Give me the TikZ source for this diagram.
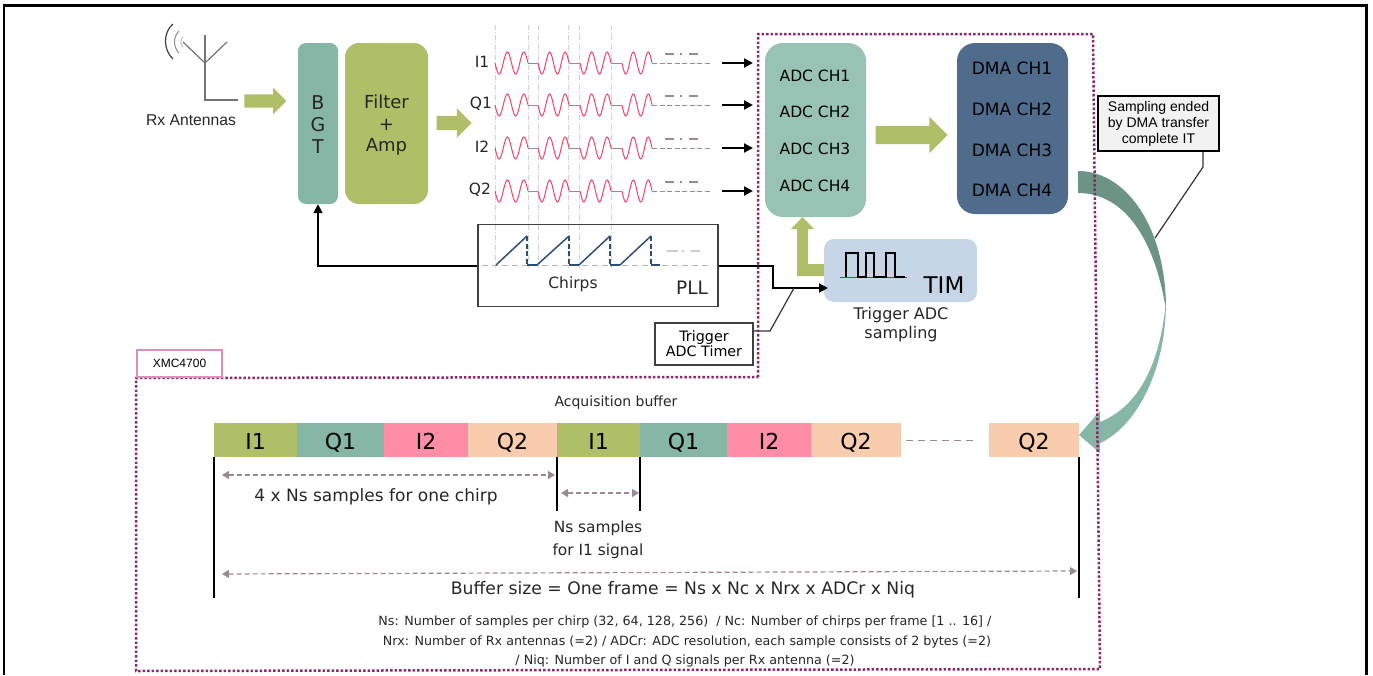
\documentclass[tikz,border=0pt]{standalone}
\usepackage{fontspec}
\setmainfont{DejaVu Sans}
\newfontfamily\arialfont{Liberation Sans}
\usetikzlibrary{positioning,shapes.arrows,arrows.meta}
\definecolor{cgreen}{HTML}{AEBF67}
\definecolor{cteal}{HTML}{86B6A6}
\definecolor{cadc}{HTML}{98C2B4}
\definecolor{cdma}{HTML}{506C8C}
\definecolor{ctim}{HTML}{C6D6E6}
\definecolor{cpink}{HTML}{FF8DA6}
\definecolor{cpeach}{HTML}{F9CCAE}
\definecolor{cdark}{HTML}{6B9484}
\definecolor{cdot}{HTML}{8B2A6B}
\definecolor{cwave}{HTML}{E8466A}
\definecolor{cdash}{HTML}{9A8A8F}
\definecolor{cchirp}{HTML}{2A5078}
\newcommand{\fs}[1]{\fontsize{#1}{#1}\selectfont}
\begin{document}
\begin{tikzpicture}[x=1pt,y=-1pt,>={Triangle[length=9pt,width=9pt]},node distance=0pt]
    \tikzset{
      block/.style={rectangle,rounded corners=#1,inner sep=0pt,align=center},
      fatarrow/.style={single arrow,fill=cgreen,inner xsep=0pt,inner ysep=6.5pt,single arrow head extend=6.5pt,
        minimum width=26pt,shape border rotate=0},
      txt/.style={inner sep=0pt,align=center,font=\fs{#1},text=black!85},
      cell/.style={inner sep=0pt,outer sep=0pt,minimum height=34pt,text height=19pt,text depth=0pt,font=\fs{22}},
      signal/.style={line width=2pt,->},
      wave/.style={cwave,line width=1pt},
      level/.style={cdash,line width=1pt,dash pattern=on 5pt off 2.5pt},
      guide/.style={black!18,line width=.6pt,dash pattern=on 5pt off 2pt on 1pt off 2pt},
      span/.style={cdash,line width=1.2pt,dash pattern=on 5pt off 3pt,{Triangle[length=7pt,width=8pt]}-{Triangle[length=7pt,width=8pt]}},
      tick/.style={black,line width=2pt},
      thinline/.style={black!80,line width=1.2pt},
      border/.style={cdot,line width=2.5pt,dash pattern=on 2.5pt off 2pt}
    }
    \useasboundingbox (0,0) rectangle (1373,675);
    \draw[black,line width=2.2pt] (4,675) -- (4,5.5) -- (1366.5,5.5) -- (1366.5,675);

    % antenna
    \coordinate (ant0) at (205,35);
    \coordinate (antb) at (205,100);
    \coordinate (antc) at (205,63);
    \draw[black!55,line width=1.2pt] (ant0) -- (antb) -- (238,100);
    \draw[black!55,line width=1.2pt] (183,42) -- (antc) -- (227,42);
    \draw[black!75,line width=1.2pt] (173,24) .. controls (163,32) and (163,50) .. (173,59);
    \draw[black!45,line width=1pt] (179,31) .. controls (173,37) and (173,47) .. (179,53);
    \draw[black!25,line width=1pt] (183,37) .. controls (180,40) and (180,44) .. (183,47);
    \node[txt=14,font=\arialfont\fs{15.7}] (rx) at (191,120) {Rx Antennas};

    % front end
    \node[fatarrow,minimum height=42pt] (arrowrx) at (262,101) {};
    \node[block=8pt,fill=cteal,minimum width=40pt,minimum height=161pt,font=\fs{18}] (bgt) at (318,123.5) {};
    \node[txt=19] (bgtb) at (318,103) {B};
    \node[txt=19] (bgtg) at (318,125) {G};
    \node[txt=19] (bgtt) at (318,147) {T};
    \node[block=14pt,fill=cgreen,minimum width=83pt,minimum height=161pt] (filter) at (386.5,123.5) {};
    \node[txt=18] (filtera) at (386.5,102) {Filter};
    \node[txt=18] (filterb) at (386.5,125) {+};
    \node[txt=18] (filterc) at (386.5,147) {Amp};
    \node[fatarrow,inner ysep=7pt,minimum width=29pt,single arrow head extend=7.5pt,minimum height=35pt] (arrowif) at (450.5,123) {};

    % PLL
    \node[draw=black!75,fill=white,line width=1.5pt,minimum width=240pt,minimum height=82pt,inner sep=0pt] (pll) at (598,265.5) {};
    \node[txt=15.5] (chirps) at (573,284) {Chirps};
    \node[txt=18.5] (plltxt) at (692,288) {PLL};
    \coordinate (pllin) at (pll.west |- 0,266);
    \coordinate (pllout) at (pll.east |- 0,266);

    % guide lines over the signals
    \foreach \xpos in {495.5,528,538,568,579,611}
      \draw[guide] (\xpos,25) -- (\xpos,268);

    % signals
    \foreach \name/\label/\ypos/\xlab in {i1/I1/63/482,q1/Q1/105/481,i2/I2/148/482,q2/Q2/191/480}{
      \node[txt=15.5] (lab\name) at (\xlab,\ypos-1.5) {\label};
      \foreach \xa/\xb in {495/528,538/569,580/611,622/652}
        \draw[wave] plot[smooth,domain=\xa:\xb,samples=33] (\x,{\ypos+11*sin(720/(\xb-\xa)*(\x-\xa))});
      \foreach \xa/\xb in {528/538,569/580,611/622}
        \draw[cdash,line width=1pt] (\xa,\ypos) -- (\xb,\ypos);
      \draw[level] (652,\ypos) -- (712,\ypos);
      \draw[cdash,line width=2pt] (665,\ypos-9) -- (674,\ypos-9);
      \draw[cdash,line width=2pt] (680,\ypos-9) -- (681.5,\ypos-9);
      \draw[cdash,line width=2pt] (689,\ypos-9) -- (698,\ypos-9);
      \coordinate (out\name) at (722,\ypos);
      \coordinate (in\name) at (753,\ypos);
      \path[signal,black] (out\name) edge (in\name);
    }

    % chirps
    \draw[black!30,line width=1pt,dash pattern=on 6pt off 4pt] (482,265) -- (712,265);
    \foreach \xa/\xb/\xc in {496/527/537,537/569/579,579/610/620,620/651/660}{
      \draw[cchirp,line width=1.5pt] (\xa,265) -- (\xb,236);
      \draw[cchirp,line width=1.5pt,dash pattern=on 5pt off 2.5pt] (\xb,236) -- (\xb,265);
      \draw[cchirp,line width=1.5pt] (\xb,265) -- (\xc,265);
    }
    \draw[black!20,line width=1.5pt] (667,251) -- (678,251) (682,251) -- (684,251) (691,251) -- (700,251);

    % ADC and DMA
    \node[block=18pt,fill=cadc,minimum width=101pt,minimum height=174pt] (adc) at (815.5,130) {};
    \foreach \n/\ypos in {1/76,2/112,3/149,4/186}
      \node[txt=15.5,text=black] (adc\n) at (815,\ypos) {ADC CH\n};
    \node[block=18pt,fill=cdma,minimum width=111pt,minimum height=171pt] (dma) at (1012.5,128.5) {};
    \foreach \n/\ypos in {1/68,2/109,3/150,4/190}
      \node[txt=17,text=black] (dma\n) at (1012,\ypos) {DMA CH\n};
    \node[fatarrow,inner ysep=9pt,minimum width=36pt,single arrow head extend=9pt,minimum height=72pt] (arrowdma) at (907,135) {};

    % timer
    \node[block=10pt,fill=ctim,minimum width=153pt,minimum height=63pt] (tim) at (900.5,270.5) {};
    \node[txt=23,text=black] (timtxt) at (944,285) {TIM};
    \fill[cgreen] (tim.west |- 0,264) -- (808,264) -- (808,229) -- (814,229) -- (802.5,217) -- (791,229) -- (797,229) -- (797,276) -- (tim.west |- 0,276) -- cycle;
    \draw[cwave!70!black,line width=1pt] (840,277) -- (907,277);
    \draw[black,line width=1.8pt] (846,277) -- (846,253) -- (858,253) -- (858,277) -- (866,277) -- (866,253) -- (874,253) -- (874,277) -- (886,277) -- (886,253) -- (895,253) -- (895,277) -- (905,277);
    \node[txt=16] (trigsamp) at (901,325) {Trigger ADC\\[3pt]sampling};

    % PLL connections
    \coordinate (corner1) at (318,266);
    \coordinate (corner2) at (773,266);
    \coordinate (corner3) at (773,288);
    \coordinate (timin) at (828,288);
    \draw[signal] (pllin) -- (corner1) -- (bgt.south);
    \draw[signal] (pllout) -- (corner2) -- (corner3) -- (timin);

    % trigger label
    \node[draw=black!75,line width=1.5pt,fill=white,minimum width=98pt,minimum height=42pt,inner sep=0pt,
      font=\fs{14.3},align=center] (trigbox) at (704,344) {Trigger\\[1pt]ADC Timer};
    \coordinate (trigknee) at (770,331);
    \coordinate (trigend) at (794,288);
    \draw[thinline] (trigbox.east |- trigknee) -- (trigknee) -- (trigend);

    % curved arrow
    \fill[cdark] (1078,171) .. controls (1125,171) and (1166,225) .. (1166,310)
      .. controls (1155,240) and (1125,193) .. (1078,193) -- cycle;
    \fill[cteal] (1166,300) .. controls (1166,380) and (1130,430) .. (1100,443) -- (1100,453) -- (1079,435) -- (1100,411) -- (1100,422)
      .. controls (1135,408) and (1160,370) .. (1166,300) -- cycle;

    % sampling label
    \node[draw=black,line width=1.5pt,fill=black!5,minimum width=121pt,minimum height=55pt,inner sep=0pt,
      font=\arialfont\fs{14},align=center] (samplebox) at (1158.5,123.5) {Sampling ended\\[2pt]by DMA transfer\\[2pt]complete IT};
    \coordinate (sampleknee) at (1203,167);
    \coordinate (sampleend) at (1155,238);
    \draw[thinline] (samplebox.south -| sampleknee) -- (sampleknee) -- (sampleend);

    % buffer
    \node[txt=14] (acq) at (616,403) {Acquisition buffer};
    \node[cell,fill=cgreen,minimum width=83pt,anchor=west] (b1) at (214,440) {I1};
    \node[cell,fill=cteal,minimum width=87pt] (b2) [right=of b1] {Q1};
    \node[cell,fill=cpink,minimum width=84pt] (b3) [right=of b2] {I2};
    \node[cell,fill=cpeach,minimum width=89pt] (b4) [right=of b3] {Q2};
    \node[cell,fill=cgreen,minimum width=83pt] (b5) [right=of b4] {I1};
    \node[cell,fill=cteal,minimum width=87pt] (b6) [right=of b5] {Q1};
    \node[cell,fill=cpink,minimum width=84pt] (b7) [right=of b6] {I2};
    \node[cell,fill=cpeach,minimum width=90pt] (b8) [right=of b7] {Q2};
    \node[cell,fill=cpeach,minimum width=90pt,anchor=west] (b9) at (989,440) {Q2};
    \path (b8.east) ++(5,0) coordinate (gapa) (b9.west) ++(-14,0) coordinate (gapb);
    \draw[cdash,line width=1pt,dash pattern=on 7pt off 5pt] (gapa) -- (gapb);

    \draw[tick] (b1.south west) -- ++(0,141);
    \draw[tick] (b5.south west) -- ++(0,54);
    \draw[tick] (b5.south east) -- ++(0,54);
    \draw[tick] (b9.south east) -- ++(0,141);

    \coordinate (spana) at (222,475);
    \coordinate (spanb) at (555,475);
    \coordinate (spanc) at (561,493);
    \coordinate (spand) at (639,493);
    \coordinate (spane) at (222,574);
    \coordinate (spanf) at (1077,571);
    \path[span] (spana) edge (spanb) (spanc) edge (spand) (spane) edge (spanf);

    \node[txt=17] (fourns) at (376,497) {4 x Ns samples for one chirp};
    \node[txt=15.4] (ns1) at (598,528) {Ns samples};
    \node[txt=15.4] (ns2) at (598,551) {for I1 signal};
    \node[txt=17.2] (bufsize) at (683,590) {Buffer size = One frame = Ns x Nc x Nrx x ADCr x Niq};
    \node[txt=12.7] (note1) at (685,622) {Ns: Number of samples per chirp (32, 64, 128, 256) \ / Nc: Number of chirps per frame [1 .. 16] /};
    \node[txt=12.7] (note2) at (687,642) {Nrx: Number of Rx antennas (=2) / ADCr: ADC resolution, each sample consists of 2 bytes (=2)};
    \node[txt=12.7] (note3) at (685,661) {/ Niq: Number of I and Q signals per Rx antenna (=2)};

    % board outlines
    \draw[border] (758,377) -- (758,34) -- (1093,34) -- (1100,669) -- (136,671) -- (136,378) -- cycle;
    \node[draw=magenta!45!violet!50,line width=1.5pt,fill=white,minimum width=85pt,minimum height=27pt,inner sep=0pt,
      font=\arialfont\fs{12}] (xmc) at (179.5,363.5) {XMC4700};
\end{tikzpicture}
\end{document}
